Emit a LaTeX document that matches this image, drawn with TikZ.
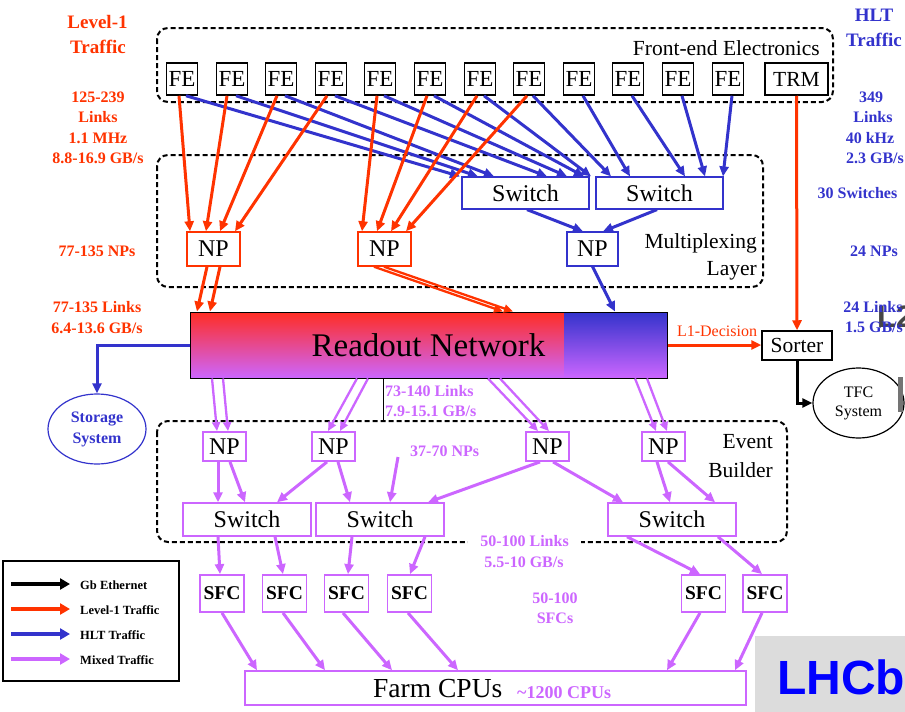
\documentclass[tikz,border=0pt]{standalone}
\usepackage{fontspec}
\setmainfont{Liberation Serif}
\newfontfamily\logofont{Liberation Sans}
\usetikzlibrary{arrows.meta,shapes.geometric,calc}

\definecolor{lonered}{RGB}{255,51,0}
\definecolor{hltblue}{RGB}{51,51,204}
\definecolor{mixpurple}{RGB}{204,102,255}
\definecolor{netred}{RGB}{255,45,35}
\definecolor{logoblue}{RGB}{0,0,255}
\definecolor{logogray}{RGB}{220,220,220}
\definecolor{ghostgray}{RGB}{70,70,70}

\newcommand\fsz[1]{\fontsize{#1}{#1}\selectfont}

\begin{document}
\begin{tikzpicture}[x=1pt,y=-1pt,
  >={Triangle[length=10pt,width=9pt]},
  every node/.style={inner sep=0pt},
  groupframe/.style={draw=black, line width=2pt, dash pattern=on 5pt off 3pt, rounded corners=11pt},
  framelbl/.style={anchor=base east, font=\fsz{21.5}},
  febox/.style={draw=black, line width=1.5pt, fill=white, minimum width=31pt, minimum height=32pt, font=\fsz{23}},
  blackbox/.style={draw=black, line width=1.5pt, fill=white, font=\fsz{21.5}},
  hltbox/.style={draw=hltblue, line width=1.2pt, fill=white, font=\fsz{24}},
  lonebox/.style={draw=lonered, line width=1.5pt, fill=white, font=\fsz{24}},
  mixbox/.style={draw=mixpurple, line width=1.8pt, fill=white, font=\fsz{24}},
  mixnp/.style={mixbox, minimum width=43pt, minimum height=29pt},
  mixsw/.style={mixbox, line width=1.5pt, minimum width=128pt, minimum height=33pt},
  sfcbox/.style={mixbox, minimum width=44pt, minimum height=37pt, font=\fsz{19.5}\bfseries},
  lonearrow/.style={draw=lonered, line width=3pt, ->},
  hltarrow/.style={draw=hltblue, line width=3pt, ->},
  mixarrow/.style={draw=mixpurple, line width=3pt, ->},
  pairarrow/.style={line width=2.3pt, ->, >={Triangle[length=9pt,width=8pt]}},
  gbarrow/.style={draw=black, line width=3pt, ->},
  onelbl/.style={text=lonered, font=\fsz{16}\bfseries, anchor=base},
  hltlbl/.style={text=hltblue, font=\fsz{16}\bfseries, anchor=base},
  mixlbl/.style={text=mixpurple, font=\fsz{16}\bfseries, anchor=base},
  titlelbl/.style={font=\fsz{19}\bfseries, anchor=base},
  legendlbl/.style={font=\fsz{12.5}\bfseries, anchor=base west}
]
\useasboundingbox (0,0) rectangle (905,712);

% ---------- dashed group frames ----------
\draw[groupframe] (157,28) rectangle (833,102);
\draw[groupframe] (157,155) rectangle (763,287);
\draw[groupframe] (157,421) rectangle (787,542);
\node[framelbl] (felbl) at (820,55) {Front-end Electronics};
\node[framelbl] (muxlbla) at (757,248) {Multiplexing};
\node[framelbl] (muxlblb) at (757,275) {Layer};
\node[framelbl] (eblbla) at (773,448) {Event};
\node[framelbl] (eblblb) at (773,477) {Builder};

% ---------- front-end electronics ----------
\foreach \i/\x in {1/182,2/232,3/281,4/331,5/380,6/430,7/480,8/529,9/579,10/628,11/678,12/728}
  \node[febox] (fe\i) at (\x,79) {FE};
\node[blackbox, minimum width=63pt, minimum height=32pt] (trm) at (796.5,79) {TRM};

% ---------- multiplexing layer ----------
\node[hltbox, minimum width=127pt, minimum height=32pt] (swa) at (525.5,193) {Switch};
\node[hltbox, minimum width=127pt, minimum height=32pt] (swb) at (659.5,193) {Switch};
\node[lonebox, minimum width=53pt, minimum height=34pt] (npa) at (213.5,249) {NP};
\node[lonebox, minimum width=53pt, minimum height=34pt] (npb) at (384.5,249) {NP};
\node[hltbox, minimum width=51pt, minimum height=34pt] (npc) at (592.5,249) {NP};

% ---------- readout network ----------
\shade[top color=netred, bottom color=mixpurple] (190,312) rectangle (564,378);
\shade[top color=hltblue, bottom color=mixpurple] (564,312) rectangle (667,378);
\node[draw=black, line width=1pt, minimum width=477pt, minimum height=66pt, font=\fsz{33}] (ro) at (428.5,345) {Readout Network};

\node[blackbox, minimum width=70pt, minimum height=29pt] (sorter) at (797,345.5) {Sorter};
\node[ellipse, draw=black, line width=1.2pt, fill=white, minimum width=91pt, minimum height=70pt,
      align=center, font=\fontsize{16}{19}\selectfont] (tfc) at (858.5,403) {TFC\\System};
\node[ellipse, draw=hltblue, line width=1.2pt, fill=white, minimum width=98pt, minimum height=70pt,
      align=center, text=hltblue, font=\fontsize{16}{21}\selectfont\bfseries] (storage) at (97,429) {Storage\\System};

% ---------- event builder ----------
\node[mixnp] (mnpa) at (224.5,446.5) {NP};
\node[mixnp] (mnpb) at (333.5,446.5) {NP};
\node[mixnp] (mnpc) at (547.5,446.5) {NP};
\node[mixnp] (mnpd) at (663.5,446.5) {NP};
\node[mixsw] (mswa) at (247,519.5) {Switch};
\node[mixsw] (mswb) at (380,519.5) {Switch};
\node[mixsw] (mswc) at (672,519.5) {Switch};

% ---------- sub-farm controllers and farm ----------
\foreach \i/\x in {1/222,2/284.5,3/346.5,4/409.5,5/703.5,6/765}
  \node[sfcbox] (sfc\i) at (\x,593.5) {SFC};
\node[mixbox, line width=1.5pt, minimum width=501pt, minimum height=34pt] (farm) at (495.5,688) {};
\node[anchor=base west, font=\fsz{27.5}] (farmlbl) at (373,697) {Farm CPUs};
\node[anchor=base west, text=mixpurple, font=\fsz{18}\bfseries] (cpulbl) at (517,698) {\textasciitilde1200 CPUs};

% ---------- HLT links: front-end to switches ----------
\foreach \f/\e in {1/-65.5,2/-47.5,3/-31.5,4/21.5,5/41.5,6/58.5}
  \draw[hltarrow] ([xshift=4pt]fe\f.south) -- ([xshift=\e pt]swa.north);
\foreach \f/\e in {7/-68.5,8/-48.5,9/-29.5,10/25.5,11/45.5,12/63.5}
  \draw[hltarrow] ([xshift=4pt]fe\f.south) -- ([xshift=\e pt]swb.north);
\draw[hltarrow] ([xshift=1.5pt]swa.south) -- ([xshift=-9.5pt]npc.north);
\draw[hltarrow] ([xshift=-2.5pt]swb.south) -- ([xshift=10.5pt]npc.north);
\draw[hltarrow] (npc.south) -- ([xshift=186.5pt]ro.north);
\draw[hltarrow] (ro.west) -| (storage.north);

% ---------- Level-1 links ----------
\foreach \f/\s/\e in {1/-3/-23.5,2/-5/-7.5,3/-4/6.5,4/-4/21.5}
  \draw[lonearrow] ([xshift=\s pt]fe\f.south) -- ([xshift=\e pt]npa.north);
\foreach \f/\s/\e in {5/-3/-22.5,6/-3/-7.5,7/-3/6.5,8/-2/21.5}
  \draw[lonearrow] ([xshift=\s pt]fe\f.south) -- ([xshift=\e pt]npb.north);
\draw[lonearrow] ([xshift=-6.5pt]npa.south) -- ([xshift=-231.5pt]ro.north);
\draw[lonearrow] ([xshift=6.5pt]npa.south) -- ([xshift=-218.5pt]ro.north);
\draw[pairarrow, draw=lonered] ([xshift=-10.5pt]npb.south) -- ([xshift=74.5pt]ro.north);
\draw[pairarrow, draw=lonered] ([xshift=-0.5pt]npb.south) -- ([xshift=84.5pt]ro.north);
\draw[lonearrow] (trm.south) -- (sorter.north);
\draw[lonearrow] (ro.east) -- (ro.east -| sorter.west);
\node[anchor=base, text=lonered, font=\fsz{16}] (l1dec) at (717,336) {L1-Decision};
\draw[gbarrow] (sorter.south) |- (tfc.west);

% ---------- mixed traffic ----------
\foreach \s/\e/\n in {-216.5/-7.5/mnpa,-205.5/3.5/mnpa,-71.5/-5.5/mnpb,-60.5/6.5/mnpb,
                      59.5/-9.5/mnpc,71.5/1.5/mnpc,206.5/-7.5/mnpd,218.5/3.5/mnpd}
  \draw[pairarrow, draw=mixpurple] ([xshift=\s pt]ro.south) -- ([xshift=\e pt]\n.north);
\coordinate (ebtop) at (383,421);
\draw[line width=0.6pt] (ro.south -| ebtop) -- (ebtop);

\draw[mixarrow] ([xshift=-6.5pt]mnpa.south) -- ([xshift=-29pt]mswa.north);
\draw[mixarrow] ([xshift=5.5pt]mnpa.south) -- ([xshift=-2pt]mswa.north);
\draw[mixarrow] ([xshift=-6.5pt]mnpb.south) -- ([xshift=30pt]mswa.north);
\draw[mixarrow] ([xshift=4.5pt]mnpb.south) -- ([xshift=-30pt]mswb.north);
\coordinate (npfree) at (398,457);
\draw[mixarrow] (npfree) -- ([xshift=10pt]mswb.north);
\draw[mixarrow] ([xshift=-7.5pt]mnpc.south) -- ([xshift=48pt]mswb.north);
\draw[mixarrow] ([xshift=5.5pt]mnpc.south) -- ([xshift=-49pt]mswc.north);
\draw[mixarrow] ([xshift=-6.5pt]mnpd.south) -- ([xshift=-2pt]mswc.north);
\draw[mixarrow] ([xshift=4.5pt]mnpd.south) -- ([xshift=43pt]mswc.north);

\draw[mixarrow] ([xshift=-29pt]mswa.south) -- ([xshift=-2pt]sfc1.north);
\draw[mixarrow] ([xshift=28pt]mswa.south) -- ([xshift=-1.5pt]sfc2.north);
\draw[mixarrow] ([xshift=-28pt]mswb.south) -- ([xshift=1.5pt]sfc3.north);
\draw[mixarrow] ([xshift=45pt]mswb.south) -- ([xshift=0.5pt]sfc4.north);
\draw[mixarrow] ([xshift=-45pt]mswc.south) -- ([xshift=-3.5pt]sfc5.north);
\draw[mixarrow] ([xshift=46pt]mswc.south) -- ([xshift=-3pt]sfc6.north);

\foreach \i/\s/\e in {1/0/-238.5,2/-1.5/-170.5,3/-3.5/-103.5,4/-1.5/-37.5,5/-3.5/171.5,6/-3/239.5}
  \draw[mixarrow] ([xshift=\s pt]sfc\i.south) -- ([xshift=\e pt]farm.north);

% ---------- side annotations ----------
\node[titlelbl, text=lonered] (ltitlea) at (97.5,28) {Level-1};
\node[titlelbl, text=lonered] (ltitleb) at (98,53) {Traffic};
\node[onelbl] (lla) at (98,102) {125-239};
\node[onelbl] (llb) at (98,122) {Links};
\node[onelbl] (llc) at (98,143) {1.1 MHz};
\node[onelbl] (lld) at (98,163) {8.8-16.9 GB/s};
\node[onelbl] (lnp) at (97,256) {77-135 NPs};
\node[onelbl] (lrla) at (97,312) {77-135 Links};
\node[onelbl] (lrlb) at (97,333) {6.4-13.6 GB/s};

% faint lettering showing through at the right edge
\node[anchor=base west, text=ghostgray, font=\logofont\bfseries\fsz{31}] (ghost) at (877,327) {L2};
\fill[ghostgray!75] (898,377) rectangle (903,412);

\node[titlelbl, text=hltblue] (htitlea) at (874,21) {HLT};
\node[titlelbl, text=hltblue] (htitleb) at (874,46) {Traffic};
\node[hltlbl] (hla) at (871,102) {349};
\node[hltlbl] (hlb) at (873,122) {Links};
\node[hltlbl] (hlc) at (870,143) {40 kHz};
\node[hltlbl] (hld) at (875,163) {2.3 GB/s};
\node[hltlbl] (hsw) at (857.5,198) {30 Switches};
\node[hltlbl] (hnp) at (874,256) {24 NPs};
\node[hltlbl] (hrla) at (873,312) {24 Links};
\node[hltlbl] (hrlb) at (874,332) {1.5 GB/s};

\node[mixlbl, anchor=base west] (mla) at (385,396) {73-140 Links};
\node[mixlbl, anchor=base west] (mlb) at (385,416) {7.9-15.1 GB/s};
\node[mixlbl, anchor=base west] (mnps) at (410,456) {37-70 NPs};
\node[mixlbl, fill=white, inner xsep=12pt, inner ysep=3pt] (mfla) at (524.5,546) {50-100 Links};
\node[mixlbl] (mflb) at (524,567) {5.5-10 GB/s};
\node[mixlbl] (msfa) at (555,603) {50-100};
\node[mixlbl] (msfb) at (555,623) {SFCs};

% ---------- legend ----------
\node[draw=black, line width=1.5pt, minimum width=176pt, minimum height=120pt] (legend) at (91,621) {};
\foreach \k/\c/\t in {0/black/Gb Ethernet,1/lonered/Level-1 Traffic,2/hltblue/HLT Traffic,3/mixpurple/Mixed Traffic}{
  \coordinate (lgs\k) at (11,584+25*\k);
  \coordinate (lge\k) at (70,584+25*\k);
  \draw[draw=\c, line width=4pt, -{Triangle[length=10pt,width=11pt]}] (lgs\k) -- (lge\k);
  \node[legendlbl] (lgt\k) at (80,589+25*\k) {\t};
}

% ---------- logo ----------
\fill[logogray] (755,636) rectangle (905,712);
\node[anchor=base west, text=logoblue, font=\logofont\bfseries\fsz{48}] (logo) at (777,694) {LHCb};
\end{tikzpicture}
\end{document}
